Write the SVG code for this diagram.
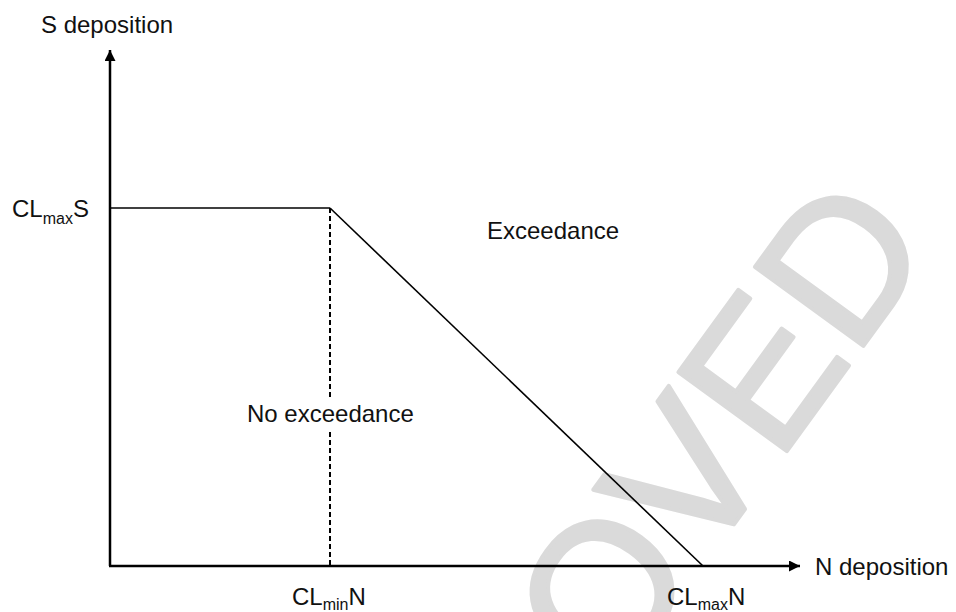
<svg xmlns="http://www.w3.org/2000/svg" width="956" height="612" viewBox="0 0 956 612">
  <style>
    .lbl { font-family: "Liberation Sans", Arial, sans-serif; font-size: 24px; fill: #111; }
    .sub { font-size: 16px; }
    .axis { stroke: #000; stroke-width: 2.5; fill: none; }
    .thin { stroke: #000; stroke-width: 1.6; fill: none; }
    .wm { font-family: "Liberation Sans", Arial, sans-serif; font-size: 195px; fill: #dadada; stroke: #dadada; stroke-width: 4; stroke-linejoin: round; }
  </style>
  <defs>
    <marker id="arrow" viewBox="0 0 10 10" refX="10" refY="5" markerWidth="11" markerHeight="11" markerUnits="userSpaceOnUse" orient="auto">
      <path d="M0,0 L10,5 L0,10 Z" fill="#000"/>
    </marker>
  </defs>
  <rect width="956" height="612" fill="#fff"/>

  <g id="watermark">
    <text class="wm" transform="translate(612,692) rotate(-54)">OVED</text>
  </g>

  <g id="connectors">
    <line class="axis" x1="110" y1="566" x2="110" y2="50" marker-end="url(#arrow)"/>
    <line class="axis" x1="109" y1="566" x2="800" y2="566" marker-end="url(#arrow)"/>
    <line class="thin" x1="110" y1="208" x2="330" y2="208"/>
    <line class="thin" x1="330" y1="208" x2="703" y2="566"/>
    <line x1="330" y1="208" x2="330" y2="566" stroke="#000" stroke-width="2" stroke-dasharray="5 3"/>
  </g>

  <g id="y-axis-label"><text class="lbl" x="41" y="33">S deposition</text></g>
  <g id="x-axis-label"><text class="lbl" x="815" y="575">N deposition</text></g>
  <g id="exceedance"><text class="lbl" x="487" y="239">Exceedance</text></g>
  <g id="no-exceedance">
    <rect x="244" y="398" width="178" height="32" fill="#fff"/>
    <text class="lbl" x="247" y="422">No exceedance</text>
  </g>
  <g id="clmaxs"><text class="lbl" x="12" y="217">CL<tspan class="sub" dy="7">max</tspan><tspan dy="-7">S</tspan></text></g>
  <g id="clminn"><text class="lbl" x="292" y="605">CL<tspan class="sub" dy="5">min</tspan><tspan dy="-5">N</tspan></text></g>
  <g id="clmaxn"><text class="lbl" x="667" y="605">CL<tspan class="sub" dy="5">max</tspan><tspan dy="-5">N</tspan></text></g>
</svg>
